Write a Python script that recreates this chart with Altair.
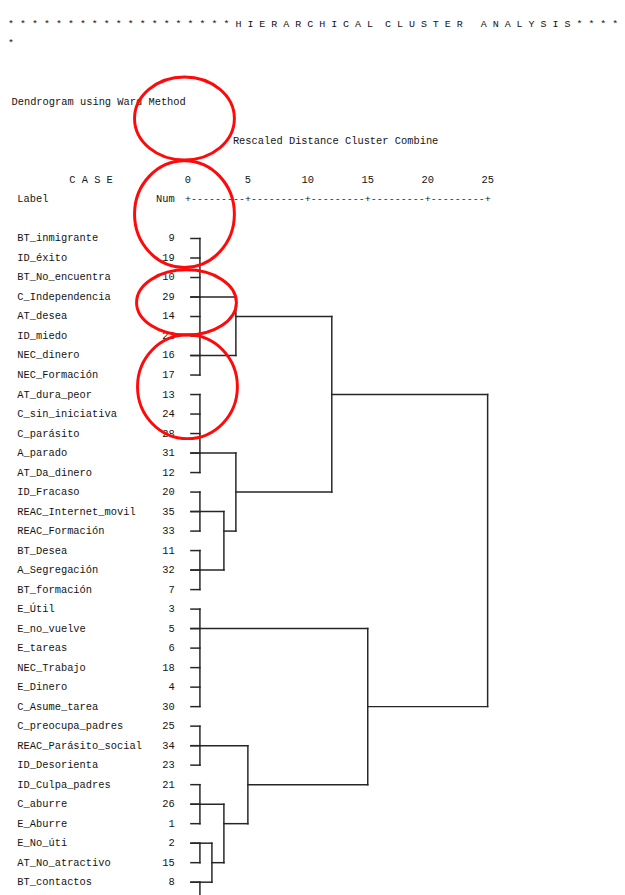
import altair as alt
import pandas as pd

# ---------------- data ----------------
labels = ["BT_inmigrante", "ID_éxito", "BT_No_encuentra", "C_Independencia", "AT_desea",
          "ID_miedo", "NEC_dinero", "NEC_Formación", "AT_dura_peor", "C_sin_iniciativa",
          "C_parásito", "A_parado", "AT_Da_dinero", "ID_Fracaso", "REAC_Internet_movil",
          "REAC_Formación", "BT_Desea", "A_Segregación", "BT_formación", "E_Útil",
          "E_no_vuelve", "E_tareas", "NEC_Trabajo", "E_Dinero", "C_Asume_tarea",
          "C_preocupa_padres", "REAC_Parásito_social", "ID_Desorienta", "ID_Culpa_padres",
          "C_aburre", "E_Aburre", "E_No_úti", "AT_No_atractivo", "BT_contactos"]
case_nums = [9, 19, 10, 29, 14, 22, 16, 17, 13, 24, 28, 31, 12, 20, 35, 33, 11, 32, 7,
             3, 5, 6, 18, 4, 30, 25, 34, 23, 21, 26, 1, 2, 15, 8]

# first-level clusters (row spans joined at the smallest rescaled distance)
leaf_top = [0, 8, 13, 16, 19, 25, 28, 31, 33]
leaf_bottom = [7, 12, 15, 18, 24, 27, 30, 32, 34]
leaf_start = 0.25
leaf_dist = 1.0

# higher merges: distance, the two joined rows and the heights they come from
merge_dist = [4, 3, 4, 12, 2, 3, 5, 15, 25]
merge_row_a = [3, 14, 11, 4, 31, 29, 26, 20, 8]
merge_from_a = [0.25, 0.25, 0.25, 4, 0.25, 0.25, 0.25, 0.25, 12]
merge_row_b = [6, 17, 15, 13, 33, 32, 30, 28, 24]
merge_from_b = [0.25, 0.25, 3, 4, 0.25, 2, 3, 5, 15]

axis_ticks = [0, 5, 10, 15, 20, 25]

NB = "\u00a0"
title_text = ("*" + NB) * 19 + NB.join("HIERARCHICAL") + NB * 2 + NB.join("CLUSTER") + \
    NB * 3 + NB.join("ANALYSIS") + (NB + "*") * 4

# ---------------- build tables ----------------
segs = []
for top, bot in zip(leaf_top, leaf_bottom):
    for r in range(top, bot + 1):
        segs.append(dict(x=leaf_start, x2=leaf_dist, y=r, y2=r))
    segs.append(dict(x=leaf_dist, x2=leaf_dist, y=top, y2=bot))
for d, ra, fa, rb, fb in zip(merge_dist, merge_row_a, merge_from_a, merge_row_b, merge_from_b):
    segs.append(dict(x=fa, x2=d, y=ra, y2=ra))
    segs.append(dict(x=fb, x2=d, y=rb, y2=rb))
    segs.append(dict(x=d, x2=d, y=ra, y2=rb))
seg_df = pd.DataFrame(segs)

rows_df = pd.DataFrame({"row": list(range(len(labels))), "label": labels,
                        "num": [str(n) for n in case_nums],
                        "dl": -14.23, "dn": -1.11})

left_text = pd.DataFrame([
    dict(t=title_text, d=-15.0, row=-11),
    dict(t="*", d=-15.0, row=-10),
])
header_left = pd.DataFrame([
    dict(t="Dendrogram using Ward Method", d=-14.72, row=-7),
    dict(t="Rescaled Distance Cluster Combine", d=3.75, row=-5),
    dict(t="C A S E", d=-9.9, row=-3),
    dict(t="Label", d=-14.23, row=-2),
])
header_right = pd.DataFrame([dict(t="Num", d=-1.11, row=-2)])
tick_lab = pd.DataFrame({"t": [str(v) for v in axis_ticks], "d": axis_ticks, "row": -3})
axis_chars = pd.DataFrame({
    "d": [k * 0.5 for k in range(51)],
    "t": ["+" if k % 10 == 0 else "-" for k in range(51)],
    "row": -2,
})

# red hand-drawn ellipses (annotation), in chart units
ell_d = [-0.29, -0.29, -0.12, -0.04]
ell_row = [-6.15, -1.25, 3.28, 7.6]
ell_w = [101, 101, 101, 101]
ell_h = [84, 108, 66, 105]


def ellipse_path(w, h):
    m = max(w, h)
    a, b = w / m, h / m
    return f"M {-a} 0 A {a} {b} 0 1 0 {a} 0 A {a} {b} 0 1 0 {-a} 0 Z"


ell_df = pd.DataFrame({
    "d": ell_d, "row": ell_row,
    "shape": [ellipse_path(w, h) for w, h in zip(ell_w, ell_h)],
    "size": [max(w, h) ** 2 for w, h in zip(ell_w, ell_h)],
})

# ---------------- chart ----------------
W, H = 616, 895
COL_PX = 12.126
ROW_PX = 19.73
x0 = -182.0 / COL_PX
y0 = -228.0 / ROW_PX
xs = alt.Scale(domain=[x0, x0 + W / COL_PX], nice=False, zero=False)
ys = alt.Scale(domain=[y0, y0 + H / ROW_PX], nice=False, zero=False, reverse=True)


def X(f):
    return alt.X(f, type="quantitative", scale=xs, axis=None)


def Y(f):
    return alt.Y(f, type="quantitative", scale=ys, axis=None)


FONT = "Liberation Mono"
INK = "#141414"
FS = 10.5

lines = alt.Chart(seg_df).mark_rule(color="#262626", strokeWidth=1.5, strokeCap="square").encode(
    x=X("x"), x2="x2", y=Y("y"), y2="y2")

lab_layer = alt.Chart(rows_df).mark_text(
    font=FONT, fontSize=FS, align="left", baseline="middle", color=INK).encode(
    x=X("dl"), y=Y("row"), text="label")
num_layer = alt.Chart(rows_df).mark_text(
    font=FONT, fontSize=FS, align="right", baseline="middle", color=INK).encode(
    x=X("dn"), y=Y("row"), text="num")

title_layer = alt.Chart(left_text).mark_text(font=FONT, fontSize=10.1, align="left",
                                             baseline="middle", color=INK).encode(
    x=X("d"), y=Y("row"), text="t")
head_left = alt.Chart(header_left).mark_text(font=FONT, fontSize=FS, align="left",
                                             baseline="middle", color=INK).encode(
    x=X("d"), y=Y("row"), text="t")
head_right = alt.Chart(header_right).mark_text(font=FONT, fontSize=FS, align="right",
                                               baseline="middle", color=INK).encode(
    x=X("d"), y=Y("row"), text="t")
ticks_layer = alt.Chart(tick_lab).mark_text(font=FONT, fontSize=FS, align="center",
                                            baseline="middle", color=INK).encode(
    x=X("d"), y=Y("row"), text="t")
axis_layer = alt.Chart(axis_chars).mark_text(font=FONT, fontSize=10.1, align="center",
                                             baseline="middle", color=INK).encode(
    x=X("d"), y=Y("row"), text="t")

ellipses = alt.Chart(ell_df).mark_point(filled=False, stroke="#ff0a0a", strokeWidth=3,
                                        opacity=1).encode(
    x=X("d"), y=Y("row"),
    shape=alt.Shape("shape:N", scale=None),
    size=alt.Size("size:Q", scale=None))

chart = alt.layer(lines, lab_layer, num_layer, title_layer, head_left, head_right,
                  ticks_layer, axis_layer, ellipses).properties(
    width=W, height=H,
    autosize=alt.AutoSizeParams(type="none"),
    padding=0,
    background="white",
).configure_view(stroke=None)

chart.save("out.html", embed_options={"renderer": "svg", "actions": False})
